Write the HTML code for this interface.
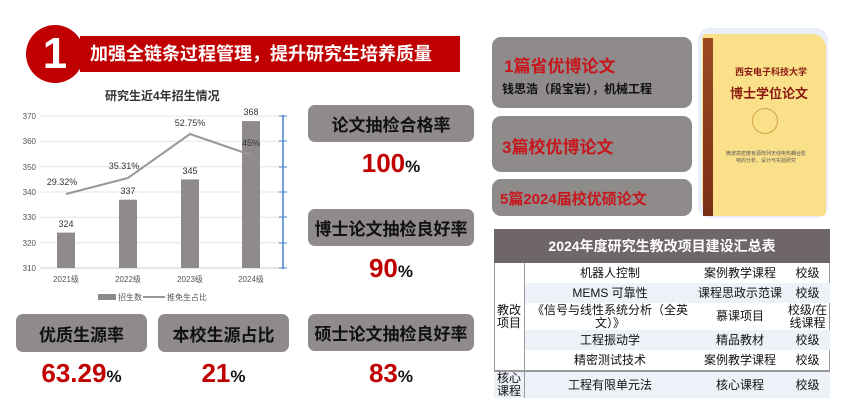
<!DOCTYPE html><html><head><meta charset="utf-8"><style>
body{margin:0;width:854px;height:416px;background:#fff;position:relative;overflow:hidden;font-family:"Liberation Sans","Noto Sans CJK SC",sans-serif}
.a{position:absolute}
.box{position:absolute;background:#8f8b8b;border-radius:7px;display:flex;align-items:center;justify-content:center;font-weight:bold;font-size:17px;color:#111}
.num{position:absolute;text-align:center;color:#c00000;font-weight:bold;font-size:26px}
.num span{color:#111;font-size:17px}
.rb{position:absolute;background:#8f8b8b;border-radius:9px;left:492px;width:200px;color:#c8161d;font-weight:bold}
table{border-collapse:collapse;font-size:12px;color:#111}
td{text-align:center;padding:0;height:20px;line-height:13px}
</style></head><body>
<div class="a" style="left:80px;top:36px;width:380px;height:36px;background:#c00000"></div>
<div class="a" style="left:26px;top:25px;width:58px;height:58px;border-radius:50%;background:#c00000;color:#fff;font-size:44px;font-weight:bold;text-align:center;line-height:58px">1</div>
<div class="a" style="left:90px;top:42px;color:#fff;font-weight:bold;font-size:18px;line-height:24px">加强全链条过程管理，提升研究生培养质量</div>
<div class="a" style="left:105px;top:87px;font-size:12px;font-weight:bold;color:#333">研究生近4年招生情况</div>
<svg class="a" style="left:0;top:100px" width="300" height="210" viewBox="0 100 300 210">
<g stroke="#e4e4e4" stroke-width="1">
<line x1="40" x2="282" y1="116" y2="116"/><line x1="40" x2="282" y1="141.3" y2="141.3"/><line x1="40" x2="282" y1="166.7" y2="166.7"/><line x1="40" x2="282" y1="192" y2="192"/><line x1="40" x2="282" y1="217.3" y2="217.3"/><line x1="40" x2="282" y1="242.7" y2="242.7"/></g>
<line x1="40" x2="282" y1="268" y2="268" stroke="#ccc"/>
<g font-size="8" fill="#555" text-anchor="end"><text x="36" y="119">370</text><text x="36" y="144">360</text><text x="36" y="170">350</text><text x="36" y="195">340</text><text x="36" y="220">330</text><text x="36" y="246">320</text><text x="36" y="271">310</text></g>
<g fill="#8f8b8b"><rect x="57" y="232.6" width="18" height="35.4"/><rect x="119" y="199.7" width="18" height="68.3"/><rect x="181" y="179.4" width="18" height="88.6"/><rect x="242" y="121.1" width="18" height="146.9"/></g>
<polyline points="66,194 128,178 190,134 251,155" fill="none" stroke="#9a9696" stroke-width="2"/>
<g font-size="9" fill="#333" text-anchor="middle"><text x="66" y="227">324</text><text x="128" y="194">337</text><text x="190" y="174">345</text><text x="251" y="115">368</text>
<text x="62" y="185">29.32%</text><text x="124" y="169">35.31%</text><text x="190" y="126">52.75%</text><text x="251" y="146">45%</text></g>
<g font-size="8" fill="#555" text-anchor="middle"><text x="66" y="282">2021级</text><text x="128" y="282">2022级</text><text x="190" y="282">2023级</text><text x="251" y="282">2024级</text></g>
<line x1="283" x2="283" y1="115" y2="269" stroke="#4a7fd4" stroke-width="1.5"/>
<g stroke="#4a7fd4"><line x1="279" x2="287" y1="116" y2="116"/><line x1="279" x2="287" y1="141" y2="141"/><line x1="279" x2="287" y1="167" y2="167"/><line x1="279" x2="287" y1="192" y2="192"/><line x1="279" x2="287" y1="217" y2="217"/><line x1="279" x2="287" y1="243" y2="243"/><line x1="279" x2="287" y1="268" y2="268"/></g>
<rect x="98" y="294" width="18" height="6" fill="#8f8b8b"/><text x="118" y="300" font-size="8" fill="#555">招生数</text>
<line x1="143" x2="165" y1="297" y2="297" stroke="#9a9696" stroke-width="2"/><text x="167" y="300" font-size="8" fill="#555">推免生占比</text>
</svg>
<div class="box" style="left:308px;top:105px;width:166px;height:37px">论文抽检合格率</div>
<div class="num" style="left:308px;top:148px;width:166px">100<span>%</span></div>
<div class="box" style="left:308px;top:209px;width:166px;height:37px">博士论文抽检良好率</div>
<div class="num" style="left:308px;top:253px;width:166px">90<span>%</span></div>
<div class="box" style="left:308px;top:314px;width:166px;height:37px">硕士论文抽检良好率</div>
<div class="num" style="left:308px;top:358px;width:166px">83<span>%</span></div>
<div class="box" style="left:16px;top:314px;width:131px;height:38px">优质生源率</div>
<div class="num" style="left:16px;top:358px;width:131px">63.29<span>%</span></div>
<div class="box" style="left:158px;top:314px;width:131px;height:38px">本校生源占比</div>
<div class="num" style="left:158px;top:358px;width:131px">21<span>%</span></div>
<div class="rb" style="top:37px;height:71px"><div style="position:absolute;left:12px;top:15px;font-size:17px">1篇省优博论文</div><div style="position:absolute;left:10px;top:43px;font-size:12px;color:#111">钱思浩（段宝岩），机械工程</div></div>
<div class="rb" style="top:116px;height:56px"><div style="position:absolute;left:10px;top:17px;font-size:17px">3篇校优博论文</div></div>
<div class="rb" style="top:179px;height:37px"><div style="position:absolute;left:8px;top:9px;font-size:15px">5篇2024届校优硕论文</div></div>
<div class="a" style="left:698px;top:28px;width:130px;height:190px;background:#e9eef8;border-radius:12px"></div>
<div class="a" style="left:702px;top:34px;width:124px;height:182px;background:#fbe08a;border-radius:4px 14px 4px 14px"></div>
<div class="a" style="left:703px;top:38px;width:10px;height:178px;background:linear-gradient(#9b4a22,#7a2e14)"></div>
<div class="a" style="left:735px;top:65px;font-size:9px;color:#8a1a10;font-weight:bold">西安电子科技大学</div>
<div class="a" style="left:730px;top:83px;font-size:13px;color:#8a1a10;font-weight:bold">博士学位论文</div>
<div class="a" style="left:752px;top:108px;width:24px;height:24px;border-radius:50%;border:1px solid #d4a24a"></div>
<div class="a" style="left:726px;top:150px;width:80px;font-size:5px;color:#555;text-align:center">微波高密度有源阵列天线电热耦合影响的分析、设计与实验研究</div>
<div class="a" style="left:494px;top:229px;width:336px;height:167px;border:1px solid #999;box-sizing:border-box;background:#fff"></div>
<table class="a" style="left:494px;top:229px;width:336px">
<tr><td colspan="4" style="background:#6f6767;color:#fff;font-weight:bold;font-size:14px;height:34px">2024年度研究生教改项目建设汇总表</td></tr>
<tr><td rowspan="5" style="width:30px;border-right:1px solid #999;font-size:12px">教改<br>项目</td><td style="width:170px">机器人控制</td><td style="width:90px">案例教学课程</td><td>校级</td></tr>
<tr style="background:#edf1f8"><td>MEMS 可靠性</td><td>课程思政示范课</td><td>校级</td></tr>
<tr><td style="height:27px">《信号与线性系统分析（全英<br>文）》</td><td>慕课项目</td><td>校级/在<br>线课程</td></tr>
<tr style="background:#edf1f8"><td>工程振动学</td><td>精品教材</td><td>校级</td></tr>
<tr><td>精密测试技术</td><td>案例教学课程</td><td>校级</td></tr>
<tr style="background:#edf1f8;border-top:2px solid #999"><td style="border-right:1px solid #999;height:26px;font-size:12px">核心<br>课程</td><td>工程有限单元法</td><td>核心课程</td><td>校级</td></tr>
</table>
</body></html>
